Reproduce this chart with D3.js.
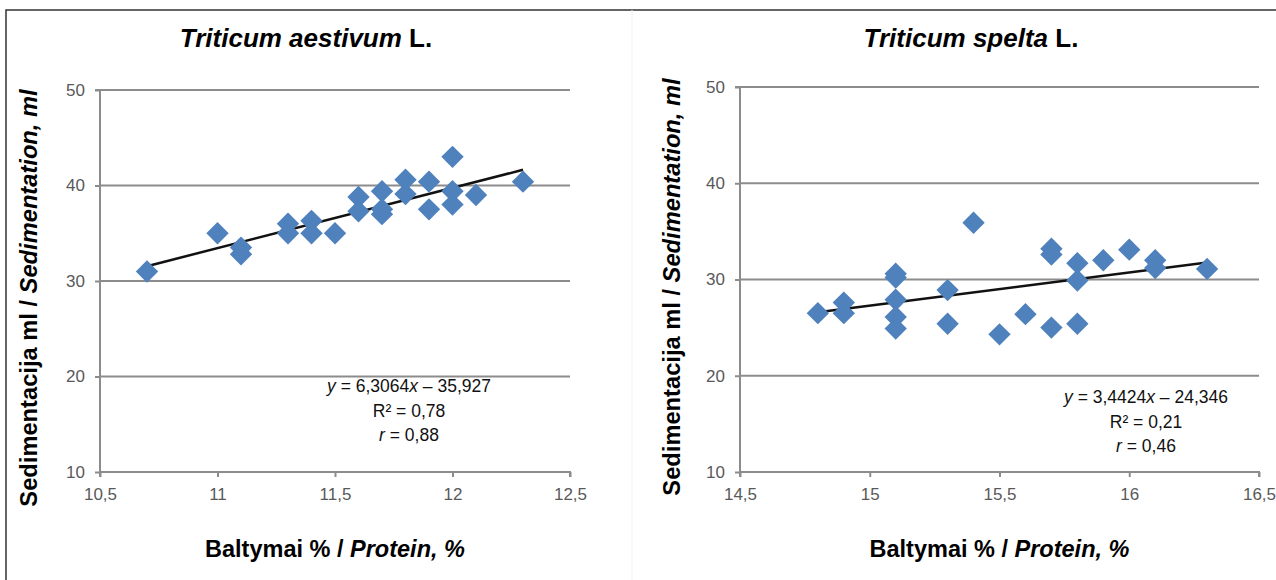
<!DOCTYPE html>
<html>
<head>
<meta charset="utf-8">
<script src="https://cdn.jsdelivr.net/npm/d3@7"></script>
<style>
  html, body { margin: 0; padding: 0; background: #fff; }
  svg { display: block; font-family: "Liberation Sans", Arial, sans-serif; }
</style>
</head>
<body>
<svg id="chart" width="1276" height="580"></svg>
<script>
// Triticum aestivum L.
const aestivumProtein = [10.7, 11.0, 11.1, 11.1, 11.3, 11.3, 11.4, 11.4, 11.5, 11.6, 11.6,
  11.7, 11.7, 11.7, 11.8, 11.8, 11.9, 11.9, 12.0, 12.0, 12.0, 12.1, 12.3];
const aestivumSedimentation = [31.0, 35.0, 33.5, 32.8, 36.0, 35.0, 36.3, 35.0, 35.0, 38.8, 37.3,
  39.4, 37.5, 37.0, 40.6, 39.1, 40.4, 37.5, 43.0, 39.4, 38.0, 39.0, 40.4];
const aestivumFit = { slope: 6.3064, intercept: -35.927 };
const aestivumStats = ['y = 6,3064x – 35,927', 'R² = 0,78', 'r = 0,88'];

// Triticum spelta L.
const speltaProtein = [14.8, 14.9, 14.9, 15.1, 15.1, 15.1, 15.1, 15.1, 15.3, 15.3, 15.4, 15.5,
  15.6, 15.7, 15.7, 15.7, 15.8, 15.8, 15.8, 15.9, 16.0, 16.1, 16.1, 16.3];
const speltaSedimentation = [26.5, 27.6, 26.5, 30.6, 30.2, 27.9, 26.1, 24.9, 28.9, 25.4, 35.9, 24.3,
  26.4, 33.2, 32.6, 25.0, 31.7, 29.9, 25.4, 32.0, 33.1, 32.0, 31.2, 31.1];
const speltaFit = { slope: 3.4424, intercept: -24.346 };
const speltaStats = ['y = 3,4424x – 24,346', 'R² = 0,21', 'r = 0,46'];

const aestivumXTicks = [10.5, 11, 11.5, 12, 12.5];
const speltaXTicks = [14.5, 15, 15.5, 16, 16.5];
const yTicks = [10, 20, 30, 40, 50];

const svg = d3.select('#chart');
const fmt = (v) => String(v).replace('.', ',');
const gridColor = '#8c8c8c';
const markerColor = '#4f81bd';

// outer frame (top + left edge of the figure box)
svg.append('path')
  .attr('d', 'M6,580 L6,10 L1276,10')
  .attr('fill', 'none')
  .attr('stroke', '#333')
  .attr('stroke-width', 1.5);

// faint divider between panels
svg.append('line')
  .attr('x1', 632).attr('x2', 632).attr('y1', 10).attr('y2', 580)
  .attr('stroke', '#f2f2f2').attr('stroke-width', 1);

const diamond = d3.symbol().type(d3.symbolSquare).size(250);

function drawPanel(opts) {
  const { left, right, top, bottom, xTicks, xs, ys, fit, stats, species,
    titleX, yTitleX, yTitleY, statsX, statsY } = opts;

  const x = d3.scaleLinear().domain([xTicks[0], xTicks[xTicks.length - 1]]).range([left, right]);
  const y = d3.scaleLinear().domain([10, 50]).range([bottom, top]);

  const g = svg.append('g');

  // horizontal gridlines
  g.selectAll('line.grid')
    .data(yTicks.filter((t) => t > 10))
    .join('line')
    .attr('class', 'grid')
    .attr('x1', left).attr('x2', right)
    .attr('y1', (d) => y(d)).attr('y2', (d) => y(d))
    .attr('stroke', gridColor).attr('stroke-width', 2);

  // axes
  const xAxis = g.append('g')
    .attr('transform', `translate(0,${bottom})`)
    .call(d3.axisBottom(x).tickValues(xTicks).tickFormat(fmt).tickSize(5).tickPadding(11));
  const yAxis = g.append('g')
    .attr('transform', `translate(${left},0)`)
    .call(d3.axisLeft(y).tickValues(yTicks).tickSize(5).tickPadding(10));

  [xAxis, yAxis].forEach((a) => {
    a.attr('font-size', null).attr('font-family', null);
    a.select('.domain').attr('stroke', gridColor).attr('stroke-width', 2);
    a.selectAll('.tick line').attr('stroke', gridColor).attr('stroke-width', 2);
    a.selectAll('.tick text')
      .attr('fill', '#595959')
      .style('font-size', '17px');
  });
  xAxis.select('.domain').attr('d', `M${left},5V0H${right}V5`);
  yAxis.select('.domain').attr('d', `M-5,${top}H0V${bottom}`);

  // trend line over the data range
  const xMin = d3.min(xs);
  const xMax = d3.max(xs);
  g.append('line')
    .attr('x1', x(xMin)).attr('y1', y(fit.slope * xMin + fit.intercept))
    .attr('x2', x(xMax)).attr('y2', y(fit.slope * xMax + fit.intercept))
    .attr('stroke', '#111').attr('stroke-width', 2.5);

  // markers
  g.selectAll('path.pt')
    .data(xs.map((v, i) => [v, ys[i]]))
    .join('path')
    .attr('class', 'pt')
    .attr('d', diamond)
    .attr('transform', (d) => `translate(${x(d[0])},${y(d[1])}) rotate(45)`)
    .attr('fill', markerColor);

  // title
  const title = g.append('text')
    .attr('x', titleX).attr('y', 47)
    .attr('text-anchor', 'middle')
    .style('font-size', '26px').style('font-weight', 'bold');
  title.append('tspan').style('font-style', 'italic').text(species);
  title.append('tspan').text(' L.');

  // y-axis title
  const yt = g.append('text')
    .attr('transform', `translate(${yTitleX},${yTitleY}) rotate(-90)`)
    .attr('text-anchor', 'middle')
    .style('font-size', '23.7px').style('font-weight', 'bold');
  yt.append('tspan').text('Sedimentacija ml / ');
  yt.append('tspan').style('font-style', 'italic').text('Sedimentation, ml');

  // x-axis title
  const xt = g.append('text')
    .attr('x', (left + right) / 2).attr('y', 557)
    .attr('text-anchor', 'middle')
    .style('font-size', '23.5px').style('font-weight', 'bold');
  xt.append('tspan').text('Baltymai % / ');
  xt.append('tspan').style('font-style', 'italic').text('Protein, %');

  // regression stats
  const st = g.append('text')
    .attr('text-anchor', 'middle')
    .style('font-size', '17.5px').attr('fill', '#111');
  stats.forEach((s, i) => {
    const line = st.append('tspan').attr('x', statsX).attr('y', statsY + i * 24.5);
    const m = s.match(/^(y|r)( = .*)$/);
    if (m) {
      line.append('tspan').style('font-style', 'italic').text(m[1]);
      const rest = m[2];
      if (m[1] === 'y') {
        const k = rest.indexOf('x');
        line.append('tspan').text(rest.slice(0, k));
        line.append('tspan').style('font-style', 'italic').text('x');
        line.append('tspan').text(rest.slice(k + 1));
      } else {
        line.append('tspan').text(rest);
      }
    } else {
      line.text(s);
    }
  });
}

drawPanel({
  left: 100, right: 570, top: 90, bottom: 472,
  xTicks: aestivumXTicks, xs: aestivumProtein, ys: aestivumSedimentation,
  fit: aestivumFit, stats: aestivumStats, species: 'Triticum aestivum',
  titleX: 306, yTitleX: 37, yTitleY: 298, statsX: 409, statsY: 392
});

drawPanel({
  left: 740, right: 1259, top: 87, bottom: 472,
  xTicks: speltaXTicks, xs: speltaProtein, ys: speltaSedimentation,
  fit: speltaFit, stats: speltaStats, species: 'Triticum spelta',
  titleX: 971, yTitleX: 680, yTitleY: 287, statsX: 1146, statsY: 403
});
</script>
</body>
</html>
